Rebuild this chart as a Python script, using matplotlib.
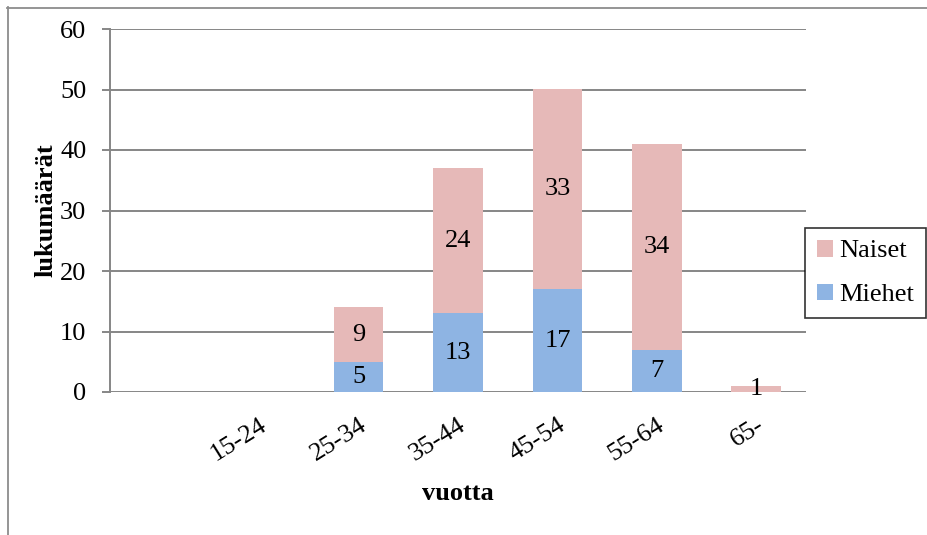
import matplotlib
matplotlib.use("Agg")
import matplotlib.pyplot as plt
from matplotlib.lines import Line2D
import numpy as np

categories = ["", "15-24", "25-34", "35-44", "45-54", "55-64", "65-"]
miehet = [0, 0, 5, 13, 17, 7, 0]
naiset = [0, 0, 9, 24, 33, 34, 1]

col_naiset = "#E6B9B8"
col_miehet = "#8EB4E3"
grid_col = "#868686"
FS = 19

plt.rcParams["font.family"] = ["Liberation Serif", "DejaVu Serif"]

fig = plt.figure(figsize=(9.28, 5.35), dpi=100)
ax = fig.add_axes([110 / 928, 1 - 392 / 535, 696 / 928, 363 / 535])

x = np.arange(len(categories))
b1 = ax.bar(x, miehet, width=0.5, color=col_miehet, label="Miehet", zorder=3)
b2 = ax.bar(x, naiset, width=0.5, bottom=miehet, color=col_naiset, label="Naiset", zorder=3)

for xi, m, n in zip(x, miehet, naiset):
    if m:
        ax.text(xi, m / 2, str(m), ha="center", va="center", fontsize=FS, zorder=4)
    if n:
        ax.text(xi, m + n / 2, str(n), ha="center", va="center", fontsize=FS, zorder=4)

ax.set_xlim(-0.5, len(categories) - 0.5)
ax.set_ylim(0, 60)
ax.set_yticks(range(0, 61, 10))
ax.yaxis.grid(True, color=grid_col, linewidth=1.4, zorder=0)
ax.set_axisbelow(True)

for s in ["top", "right", "bottom"]:
    ax.spines[s].set_visible(False)
ax.spines["left"].set_color(grid_col)
ax.spines["left"].set_linewidth(1.4)

ax.tick_params(axis="y", length=6, width=1.4, color=grid_col, labelsize=FS, pad=11)
ax.tick_params(axis="x", length=0, labelsize=FS, pad=16)
ax.set_xticks(x)
ax.set_xticklabels(categories, rotation=32, ha="right", rotation_mode="anchor")

ax.set_ylabel("lukumäärät", fontsize=FS, fontweight="bold", labelpad=2)
ax.set_xlabel("vuotta", fontsize=FS, fontweight="bold", labelpad=12)

handles = [b2, b1]
leg = ax.legend(handles, ["Naiset", "Miehet"], loc="center left",
                bbox_to_anchor=(805 / 928, 1 - 273 / 535), bbox_transform=fig.transFigure,
                fontsize=FS, frameon=True, fancybox=False, edgecolor="black",
                handlelength=0.6, handleheight=0.6, handletextpad=0.25,
                labelspacing=0.8, borderpad=0.45, borderaxespad=0)
leg.get_frame().set_linewidth(1.2)

# outer frame: top and left edges of the chart area
fig.add_artist(Line2D([7 / 928, 1.0], [1 - 7.5 / 535, 1 - 7.5 / 535],
                      transform=fig.transFigure, color="#8c8c8c", linewidth=1.3))
fig.add_artist(Line2D([7.5 / 928, 7.5 / 928], [0, 1 - 7 / 535],
                      transform=fig.transFigure, color="#8c8c8c", linewidth=1.3))

fig.savefig("out.png", dpi=100)
